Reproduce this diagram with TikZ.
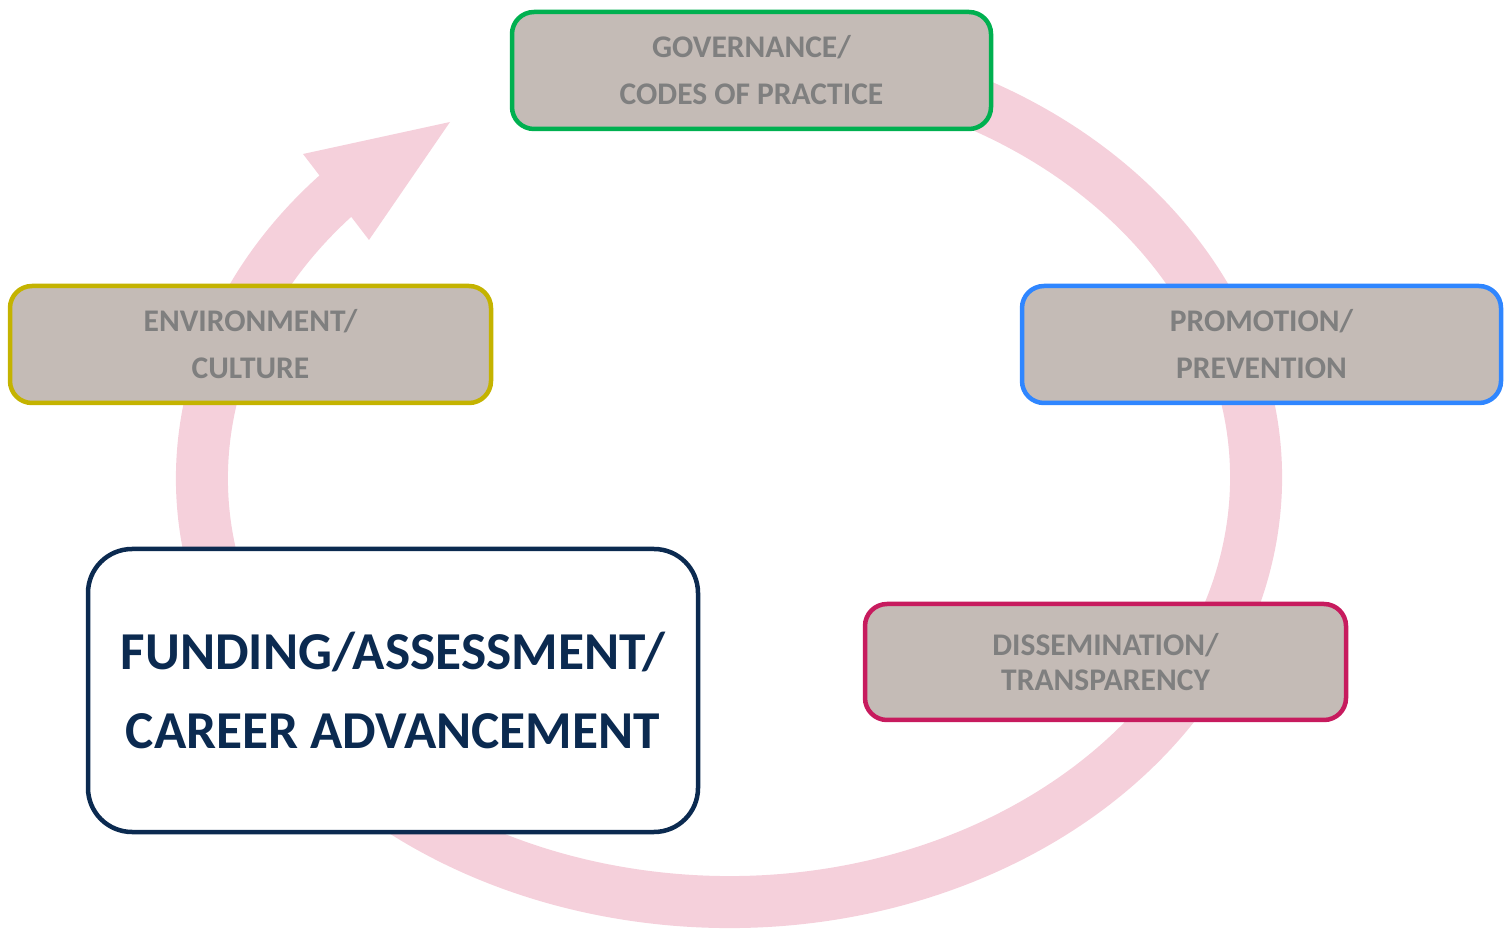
\documentclass[tikz,border=0pt]{standalone}
\usepackage{fontspec}
\setmainfont{Carlito}
\definecolor{bandpink}{HTML}{F5D0DB}
\definecolor{boxfill}{HTML}{C4BBB6}
\definecolor{boxtext}{HTML}{7F7F7F}
\definecolor{cgreen}{HTML}{00B050}
\definecolor{colive}{HTML}{C4B300}
\definecolor{cblue}{HTML}{2F86FF}
\definecolor{ccrimson}{HTML}{C71B5E}
\definecolor{cnavy}{HTML}{0B2A50}
\begin{document}
\begin{tikzpicture}[x=1pt,y=1pt,
  band/.style={draw=bandpink, line width=52pt, line cap=butt},
  headshape/.style={fill=bandpink, draw=none},
  greybox/.style={rectangle, rounded corners=22pt, line width=4.5pt, fill=boxfill,
    text=boxtext, align=center, inner sep=0pt,
    font=\bfseries\fontsize{31.5}{47}\selectfont},
  mainbox/.style={rectangle, rounded corners=44pt, line width=4.5pt, draw=cnavy, fill=white,
    text=cnavy, align=center, inner sep=0pt,
    font=\bfseries\fontsize{53.3}{79}\selectfont}
]
\useasboundingbox (0,0) rectangle (1506,929);
\coordinate (c) at (729,451);
% circular band
\draw[band] (c) ++(80:527 and 424) arc[start angle=80, end angle=-222.6, x radius=527, y radius=424];
\coordinate (tip) at (450,807);
\coordinate (hl) at (303,775);
\coordinate (hr) at (369,689);
\fill[headshape] (tip) -- (hl) -- (hr) -- cycle;
% boxes
\node[greybox, draw=cgreen, minimum width=479pt, minimum height=117pt] (gov) at (751.5,858.5)
  {GOVERNANCE/\\CODES OF PRACTICE};
\node[greybox, draw=colive, minimum width=481pt, minimum height=117pt] (env) at (250.5,584.5)
  {ENVIRONMENT/\\CULTURE};
\node[greybox, draw=cblue, minimum width=479pt, minimum height=117pt] (prom) at (1261.5,584.5)
  {PROMOTION/\\PREVENTION};
\node[greybox, draw=ccrimson, minimum width=481pt, minimum height=116pt,
  font=\bfseries\fontsize{31.5}{35}\selectfont] (diss) at (1105.5,267)
  {DISSEMINATION/\\TRANSPARENCY};
\node[mainbox, minimum width=610pt, minimum height=283pt] (fund) at (393,238.5)
  {FUNDING/ASSESSMENT/\\CAREER ADVANCEMENT};
\end{tikzpicture}
\end{document}
